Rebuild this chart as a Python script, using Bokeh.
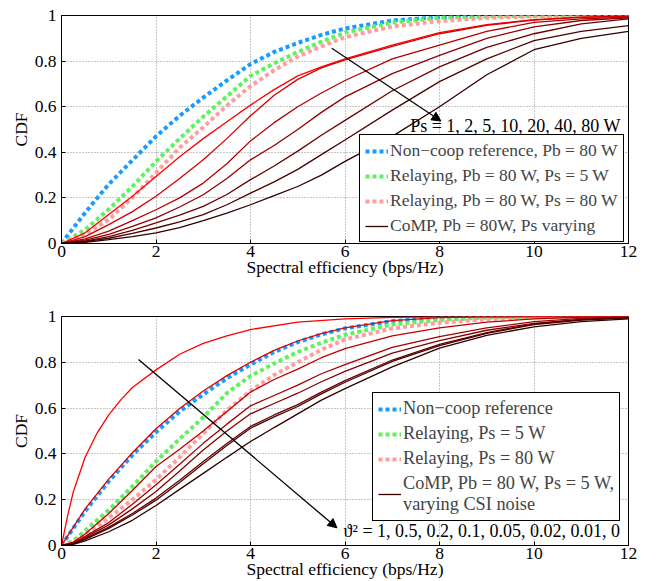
from bokeh.plotting import figure
from bokeh.models import (Legend, LegendItem, FixedTicker, Arrow, NormalHead, Label,
                          Range1d, CustomJSTickFormatter)
from bokeh.layouts import column
from bokeh.embed import file_html
from bokeh.resources import INLINE

# ---------------- data: upper panel ----------------
x_top = [0, 0.5, 1, 1.5, 2, 2.5, 3, 3.5, 4, 4.5, 5, 5.5, 6, 7, 8, 9, 10, 11, 12]
top_noncoop = [0, 0.135, 0.26, 0.365, 0.47, 0.56, 0.64, 0.715, 0.787, 0.84, 0.88, 0.915, 0.943, 0.978, 0.993, 0.998, 1.0, 1.0, 1.0]
top_relay_ps5 = [0, 0.06, 0.15, 0.25, 0.36, 0.46, 0.556, 0.645, 0.735, 0.79, 0.84, 0.885, 0.925, 0.969, 0.99, 0.996, 0.999, 1.0, 1.0]
top_relay_ps80 = [0, 0.04, 0.105, 0.2, 0.31, 0.42, 0.51, 0.605, 0.69, 0.76, 0.82, 0.865, 0.905, 0.952, 0.975, 0.99, 0.996, 0.999, 1.0]
top_comp_ps1 = [0, 0.047, 0.127, 0.207, 0.294, 0.38, 0.46, 0.534, 0.607, 0.675, 0.735, 0.775, 0.81, 0.87, 0.925, 0.96, 0.982, 0.993, 0.997]
top_comp_ps2 = [0, 0.03, 0.083, 0.14, 0.207, 0.285, 0.367, 0.46, 0.56, 0.65, 0.72, 0.77, 0.805, 0.865, 0.92, 0.957, 0.98, 0.992, 0.997]
top_comp_ps5 = [0, 0.02, 0.054, 0.1, 0.148, 0.2, 0.265, 0.35, 0.45, 0.53, 0.6, 0.66, 0.715, 0.81, 0.87, 0.93, 0.97, 0.985, 0.993]
top_comp_ps10 = [0, 0.015, 0.04, 0.075, 0.112, 0.16, 0.214, 0.285, 0.367, 0.43, 0.5, 0.575, 0.643, 0.745, 0.825, 0.9, 0.95, 0.978, 0.99]
top_comp_ps20 = [0, 0.01, 0.03, 0.058, 0.09, 0.124, 0.163, 0.215, 0.28, 0.34, 0.405, 0.475, 0.54, 0.67, 0.775, 0.86, 0.92, 0.963, 0.985]
top_comp_ps40 = [0, 0.008, 0.023, 0.044, 0.068, 0.095, 0.127, 0.17, 0.221, 0.27, 0.325, 0.39, 0.454, 0.585, 0.71, 0.81, 0.89, 0.93, 0.956]
top_comp_ps80 = [0, 0.005, 0.017, 0.03, 0.047, 0.07, 0.1, 0.133, 0.17, 0.21, 0.25, 0.3, 0.36, 0.47, 0.6, 0.74, 0.85, 0.9, 0.93]

# ---------------- data: lower panel ----------------
x_bot = [0, 0.25, 0.5, 1, 1.5, 2, 2.5, 3, 3.5, 4, 4.5, 5, 5.5, 6, 7, 8, 9, 10, 11, 12]
bot_noncoop = [0, 0.075, 0.15, 0.28, 0.395, 0.495, 0.585, 0.66, 0.73, 0.79, 0.845, 0.888, 0.922, 0.948, 0.98, 0.994, 0.998, 1.0, 1.0, 1.0]
bot_relay_ps5 = [0, 0.02, 0.065, 0.155, 0.258, 0.367, 0.465, 0.56, 0.665, 0.74, 0.795, 0.845, 0.885, 0.92, 0.965, 0.985, 0.995, 0.999, 1.0, 1.0]
bot_relay_ps80 = [0, 0.015, 0.045, 0.12, 0.2, 0.287, 0.385, 0.49, 0.59, 0.675, 0.745, 0.80, 0.855, 0.9, 0.948, 0.973, 0.988, 0.996, 0.999, 1.0]
# the steep ϑ² = 1 curve is read on its own, finer x grid
x_bot_n1 = [0, 0.125, 0.25, 0.5, 0.75, 1, 1.25, 1.5, 2, 2.5, 3, 3.5, 4, 5, 6, 7, 8, 10, 12]
bot_comp_n1 = [0, 0.125, 0.235, 0.385, 0.49, 0.57, 0.635, 0.69, 0.767, 0.835, 0.883, 0.915, 0.943, 0.975, 0.99, 0.996, 0.998, 1.0, 1.0]
bot_comp_n05 = [0, 0.08, 0.16, 0.29, 0.405, 0.51, 0.598, 0.675, 0.742, 0.80, 0.852, 0.893, 0.925, 0.95, 0.982, 0.995, 0.998, 1.0, 1.0, 1.0]
bot_comp_n02 = [0, 0.015, 0.05, 0.14, 0.24, 0.345, 0.42, 0.5, 0.585, 0.67, 0.725, 0.77, 0.82, 0.86, 0.915, 0.95, 0.975, 0.99, 0.997, 1.0]
bot_comp_n01 = [0, 0.012, 0.04, 0.1, 0.18, 0.265, 0.355, 0.446, 0.53, 0.61, 0.655, 0.70, 0.75, 0.79, 0.865, 0.912, 0.95, 0.978, 0.992, 0.998]
bot_comp_n005 = [0, 0.01, 0.035, 0.09, 0.16, 0.236, 0.325, 0.417, 0.5, 0.575, 0.62, 0.665, 0.715, 0.76, 0.84, 0.895, 0.94, 0.97, 0.987, 0.995]
bot_comp_n002 = [0, 0.008, 0.03, 0.08, 0.14, 0.207, 0.285, 0.367, 0.445, 0.52, 0.57, 0.615, 0.67, 0.72, 0.81, 0.878, 0.93, 0.968, 0.986, 0.995]
bot_comp_n001 = [0, 0.007, 0.027, 0.075, 0.133, 0.198, 0.275, 0.357, 0.437, 0.512, 0.562, 0.607, 0.662, 0.713, 0.804, 0.873, 0.926, 0.965, 0.984, 0.994]
bot_comp_n0 = [0, 0.005, 0.02, 0.06, 0.11, 0.175, 0.245, 0.315, 0.385, 0.454, 0.515, 0.575, 0.635, 0.685, 0.78, 0.862, 0.918, 0.955, 0.978, 0.99]

x_ticks = [0, 2, 4, 6, 8, 10, 12]
y_ticks = [0, 0.2, 0.4, 0.6, 0.8, 1]

top_legend_labels = ["Non\u2212coop reference, Pb = 80 W", "Relaying, Pb = 80 W, Ps = 5 W",
                     "Relaying, Pb = 80 W, Ps = 80 W", "CoMP, Pb = 80W, Ps varying"]
bot_legend_labels = ["Non\u2212coop reference", "Relaying, Ps = 5 W", "Relaying, Ps = 80 W",
                     "CoMP, Pb = 80 W, Ps = 5 W,\nvarying CSI noise"]
top_note = "Ps = 1, 2, 5, 10, 20, 40, 80 W"
bot_note = "\u03d1\u00b2 = 1, 0.5, 0.2, 0.1, 0.05, 0.02, 0.01, 0"
# annotation anchors (data units)
top_arrow = [5.72, 0.856, 8.03, 0.537]
top_note_xy = [7.38, 0.515]
bot_arrow = [1.63, 0.812, 5.83, 0.077]
bot_note_xy = [5.97, 0.062]

# ---------------- styles ----------------
FONT = "Liberation Serif"
FS = "17.5px"
C_BLUE = "#1a9bff"
C_GREEN = "#5ef25e"
C_PINK = "#ff9e9e"
top_comp_colors = ["#ff0000", "#d80000", "#b30000", "#8f0000", "#6c0000", "#4c0000", "#300000"]
bot_comp_colors = ["#ff0000", "#e00000", "#c00000", "#a20000", "#850000", "#680000", "#4c0000", "#300000"]


def make_fig(height, b_left, b_right, b_top):
    p = figure(width=644, height=height, x_range=Range1d(0, 12), y_range=Range1d(0, 1),
               output_backend="svg", toolbar_location=None,
               min_border_left=b_left, min_border_right=b_right,
               min_border_top=b_top, min_border_bottom=0)
    p.outline_line_color = "black"
    p.outline_line_alpha = 1
    p.outline_line_width = 1
    fmt = CustomJSTickFormatter(code="return tick.toString();")
    for ax in (p.xaxis[0], p.yaxis[0]):
        ax.major_label_text_font = FONT
        ax.major_label_text_font_size = FS
        ax.axis_label_text_font = FONT
        ax.axis_label_text_font_size = FS
        ax.axis_label_text_font_style = "normal"
        ax.axis_line_color = "black"
        ax.major_tick_in = 4
        ax.major_tick_out = 0
        ax.minor_tick_line_color = None
        ax.formatter = fmt
        ax.major_label_text_color = "black"
        ax.axis_label_text_color = "black"
    p.xaxis.ticker = FixedTicker(ticks=x_ticks)
    p.yaxis.ticker = FixedTicker(ticks=y_ticks)
    p.xaxis.axis_label = "Spectral efficiency (bps/Hz)"
    p.yaxis.axis_label = "CDF"
    p.xaxis.major_label_standoff = 2
    p.xaxis.axis_label_standoff = -3
    p.yaxis.major_label_standoff = 5
    p.yaxis.axis_label_standoff = 1
    p.grid.grid_line_color = "#8c8c8c"
    p.grid.grid_line_dash = "1 2"
    p.grid.grid_line_width = 1
    p.xgrid.ticker = FixedTicker(ticks=x_ticks)
    p.ygrid.ticker = FixedTicker(ticks=y_ticks)
    return p


def add_legend(p, items, loc, fsize):
    leg = Legend(items=items, location=loc, border_line_color="black", border_line_width=1,
                 border_line_alpha=1, background_fill_color="white", background_fill_alpha=1,
                 label_text_font=FONT, label_text_font_size=fsize, glyph_width=23, glyph_height=20,
                 label_height=21, label_standoff=2, spacing=4, padding=5, margin=0,
                 label_text_line_height=1.05)
    p.add_layout(leg, "center")


def dotted(p, x, y, color):
    return p.line(x, y, line_color=color, line_width=4, line_dash="4 3", line_cap="butt")


# ---------------- upper panel ----------------
p1 = make_fig(279, 61, 12, 15)
r_nc = dotted(p1, x_top, top_noncoop, C_BLUE)
r_r5 = dotted(p1, x_top, top_relay_ps5, C_GREEN)
r_r80 = dotted(p1, x_top, top_relay_ps80, C_PINK)
top_comp = [top_comp_ps1, top_comp_ps2, top_comp_ps5, top_comp_ps10, top_comp_ps20,
            top_comp_ps40, top_comp_ps80]
r_comp = None
for ys, col in zip(top_comp, top_comp_colors):
    r_comp = p1.line(x_top, ys, line_color=col, line_width=1.3)
p1.add_layout(Arrow(end=NormalHead(size=9, fill_color="black", line_color="black"),
                    x_start=top_arrow[0], y_start=top_arrow[1], x_end=top_arrow[2], y_end=top_arrow[3],
                    line_color="black", line_width=1.3))
p1.add_layout(Label(x=top_note_xy[0], y=top_note_xy[1], text=top_note, text_font=FONT,
                    text_font_size="18px", text_baseline="middle", text_color="black"))
add_legend(p1, [LegendItem(label=top_legend_labels[0], renderers=[r_nc]),
                LegendItem(label=top_legend_labels[1], renderers=[r_r5]),
                LegendItem(label=top_legend_labels[2], renderers=[r_r80]),
                LegendItem(label=top_legend_labels[3], renderers=[r_comp])], (298, 1), "17.5px")

# ---------------- lower panel ----------------
p2 = make_fig(302, 58, 16, 37)
s_nc = dotted(p2, x_bot, bot_noncoop, C_BLUE)
s_r5 = dotted(p2, x_bot, bot_relay_ps5, C_GREEN)
s_r80 = dotted(p2, x_bot, bot_relay_ps80, C_PINK)
bot_comp = [bot_comp_n05, bot_comp_n02, bot_comp_n01, bot_comp_n005,
            bot_comp_n002, bot_comp_n001, bot_comp_n0]
p2.line(x_bot_n1, bot_comp_n1, line_color=bot_comp_colors[0], line_width=1.3)
s_comp = None
for ys, col in zip(bot_comp, bot_comp_colors[1:]):
    s_comp = p2.line(x_bot, ys, line_color=col, line_width=1.3)
p2.add_layout(Arrow(end=NormalHead(size=9, fill_color="black", line_color="black"),
                    x_start=bot_arrow[0], y_start=bot_arrow[1], x_end=bot_arrow[2], y_end=bot_arrow[3],
                    line_color="black", line_width=1.3))
p2.add_layout(Label(x=bot_note_xy[0], y=bot_note_xy[1], text=bot_note, text_font=FONT,
                    text_font_size="18px", text_baseline="middle", text_color="black"))
add_legend(p2, [LegendItem(label=bot_legend_labels[0], renderers=[s_nc]),
                LegendItem(label=bot_legend_labels[1], renderers=[s_r5]),
                LegendItem(label=bot_legend_labels[2], renderers=[s_r80]),
                LegendItem(label=bot_legend_labels[3], renderers=[s_comp])], (311, 24), "18.3px")

layout = column(p1, p2, spacing=0)
open("out.html", "w").write(file_html(layout, INLINE))
